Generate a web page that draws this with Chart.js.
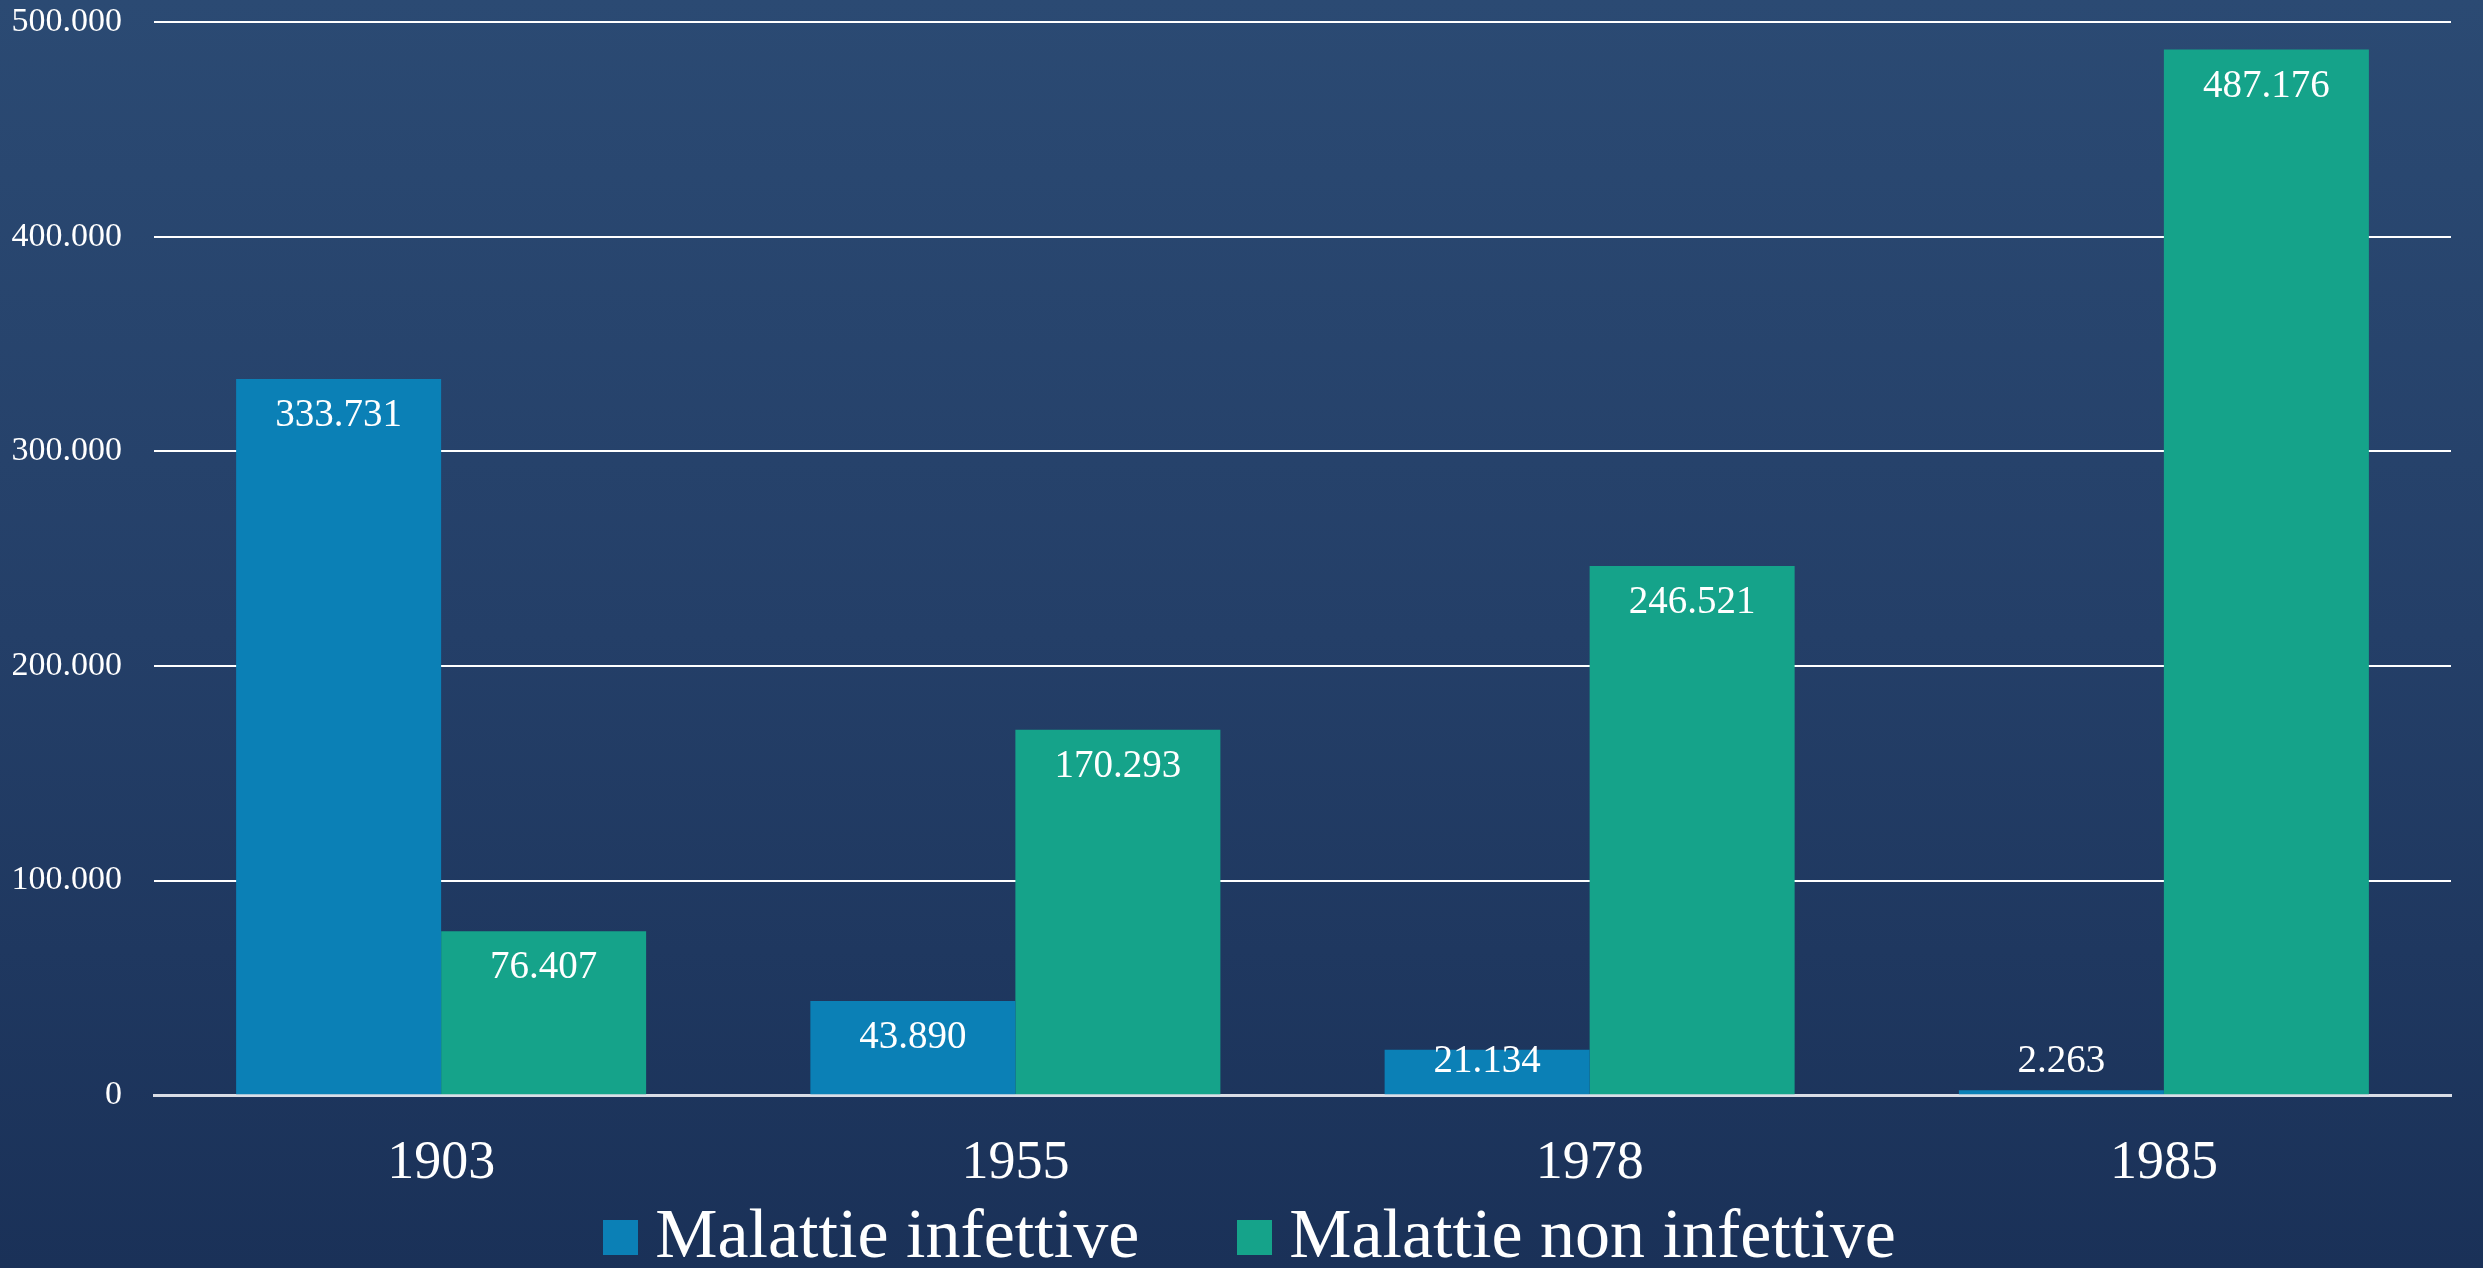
<!DOCTYPE html>
<html>
<head>
<meta charset="utf-8">
<script src="https://cdn.jsdelivr.net/npm/chart.js@4/dist/chart.umd.min.js"></script>
<style>
  html, body { margin: 0; padding: 0; }
  body {
    width: 2483px; height: 1268px; overflow: hidden;
    background: linear-gradient(180deg, #2b4a73 0%, #243f68 50%, #1a3158 100%);
    font-family: 'Liberation Serif', 'DejaVu Serif', serif;
  }
  #wrap { position: relative; width: 2483px; height: 1268px; }
  #chart { position: absolute; left: 0; top: 0; }
  #legend {
    position: absolute; left: 16px; right: 0; top: 1199px;
    display: flex; justify-content: center; align-items: center;
    color: #ffffff; font-size: 70px; line-height: 69px;
  }
  #legend .item { display: flex; align-items: center; margin: 0 49px; }
  #legend .box { width: 35px; height: 35px; margin-right: 17px; position: relative; top: 4px; }
</style>
</head>
<body>
<div id="wrap">
  <canvas id="chart" width="2483" height="1268"></canvas>
  <div id="legend"></div>
</div>
<script>
// data
var years = ['1903', '1955', '1978', '1985'];
var infettive = [333731, 43890, 21134, 2263];
var nonInfettive = [76407, 170293, 246521, 487176];
var seriesNames = ['Malattie infettive', 'Malattie non infettive'];
var seriesColors = ['#0b80b6', '#15a38a'];

var FONT = "'Liberation Serif', 'DejaVu Serif', serif";

// 500000 -> "500.000"
function fmt(v) {
  return String(Math.round(v)).replace(/\B(?=(\d{3})+(?!\d))/g, '.');
}

// value labels drawn inside the top of each bar
var barLabels = {
  id: 'barLabels',
  afterDatasetsDraw: function(chart) {
    var ctx = chart.ctx;
    var base = chart.scales.y.getPixelForValue(0);
    ctx.save();
    ctx.fillStyle = '#ffffff';
    ctx.font = '39px ' + FONT;
    ctx.textAlign = 'center';
    ctx.textBaseline = 'middle';
    chart.data.datasets.forEach(function(ds, i) {
      chart.getDatasetMeta(i).data.forEach(function(bar, j) {
        var y = Math.min(bar.y + 37, base - 33);
        ctx.fillText(fmt(ds.data[j]), bar.x, y);
      });
    });
    ctx.restore();
  }
};

var ctx = document.getElementById('chart').getContext('2d');
var chart = new Chart(ctx, {
  type: 'bar',
  data: {
    labels: years,
    datasets: [
      {
        label: seriesNames[0],
        data: infettive,
        backgroundColor: seriesColors[0],
        borderWidth: 0
      },
      {
        label: seriesNames[1],
        data: nonInfettive,
        backgroundColor: seriesColors[1],
        borderWidth: 0
      }
    ]
  },
  options: {
    responsive: false,
    animation: false,
    devicePixelRatio: 1,
    layout: { padding: { top: 0, right: 32, left: 12, bottom: 36 } },
    datasets: {
      bar: { barPercentage: 1.0, categoryPercentage: 0.714 }
    },
    plugins: {
      tooltip: { enabled: false },
      legend: { display: false }
    },
    scales: {
      x: {
        grid: { display: false, drawTicks: false },
        border: { color: '#d9dde6', width: 3 },
        ticks: {
          color: '#ffffff',
          padding: 36,
          font: { family: FONT, size: 54, lineHeight: 1.2 }
        }
      },
      y: {
        min: 0,
        max: 500000,
        grid: { color: '#ffffff', lineWidth: 2, drawTicks: false },
        border: { display: false },
        ticks: {
          stepSize: 100000,
          color: '#ffffff',
          padding: 32,
          font: { family: FONT, size: 34, lineHeight: 1 },
          callback: function(value) { return fmt(value); }
        },
        afterFit: function(scale) {
          scale.width = 142;
          scale.paddingTop = 22;
        }
      }
    }
  },
  plugins: [barLabels]
});

// html legend built from the chart's datasets
var legendEl = document.getElementById('legend');
chart.data.datasets.forEach(function(ds) {
  var item = document.createElement('div');
  item.className = 'item';
  var box = document.createElement('span');
  box.className = 'box';
  box.style.background = ds.backgroundColor;
  var txt = document.createElement('span');
  txt.textContent = ds.label;
  item.appendChild(box);
  item.appendChild(txt);
  legendEl.appendChild(item);
});
</script>
</body>
</html>
